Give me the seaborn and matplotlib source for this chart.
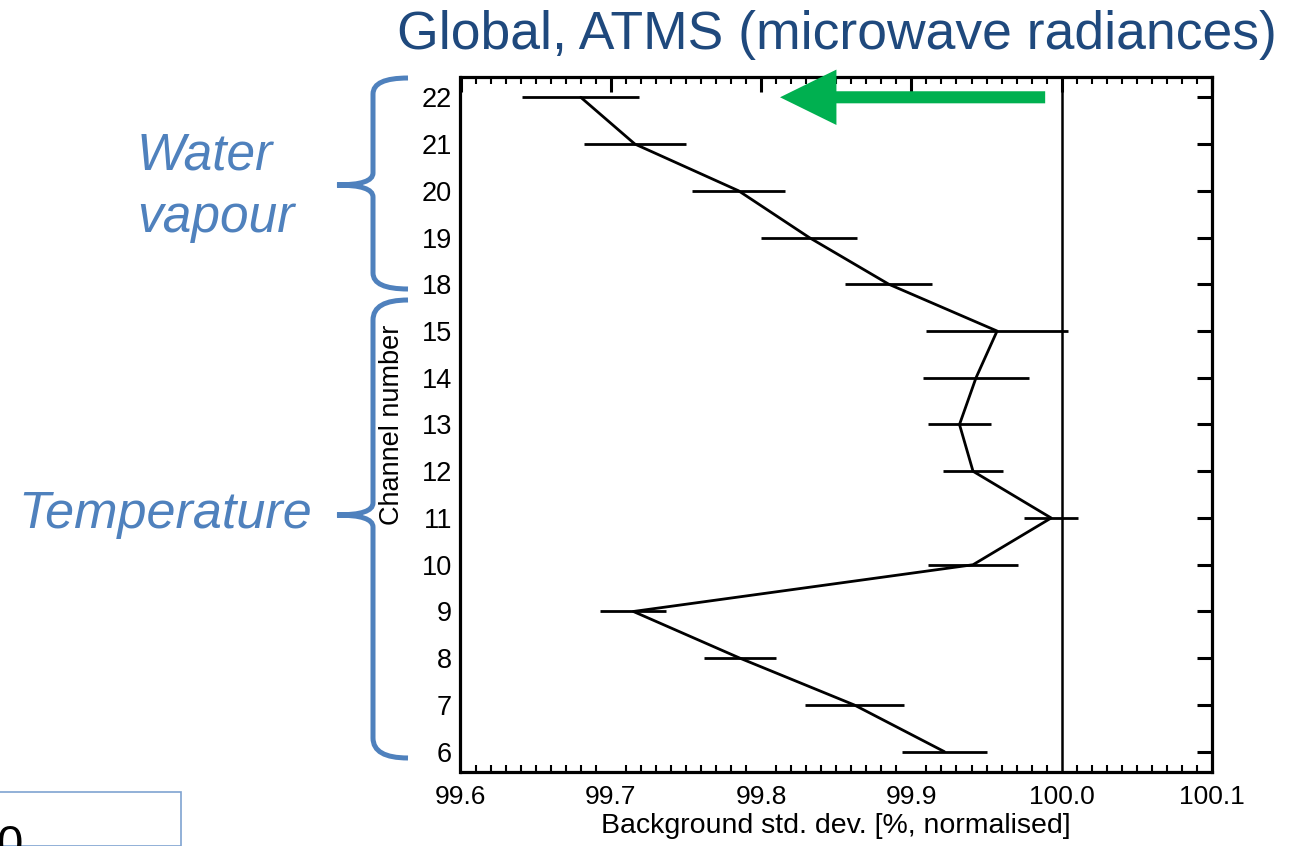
import numpy as np
import pandas as pd
import matplotlib
matplotlib.use("Agg")
import matplotlib.pyplot as plt
import seaborn as sns
from matplotlib.path import Path
from matplotlib.patches import PathPatch, Rectangle
from matplotlib.transforms import Affine2D
from matplotlib.ticker import MultipleLocator

# ---------------- data ----------------
channels = [6, 7, 8, 9, 10, 11, 12, 13, 14, 15, 18, 19, 20, 21, 22]
std_dev = [99.922, 99.862, 99.786, 99.715, 99.941, 99.993, 99.941, 99.932,
           99.943, 99.957, 99.885, 99.832, 99.785, 99.716, 99.680]
std_err = [0.028, 0.033, 0.024, 0.022, 0.030, 0.018, 0.020, 0.021,
           0.035, 0.047, 0.029, 0.032, 0.031, 0.034, 0.039]
x_ticks = [99.6, 99.7, 99.8, 99.9, 100.0, 100.1]
x_tick_labels = ["99.6", "99.7", "99.8", "99.9", "100.0", "100.1"]
reference_value = 100.0
arrow_from = 99.989
arrow_to = 99.8126

title = "Global, ATMS (microwave radiances)"
x_label = "Background std. dev. [%, normalised]"
y_label = "Channel number"

# ---------------- style ----------------
sns.set_style("white")
plt.rcParams["font.family"] = ["Liberation Sans", "DejaVu Sans"]
plt.rcParams["text.color"] = "black"
plt.rcParams["axes.labelcolor"] = "black"
plt.rcParams["xtick.color"] = "black"
plt.rcParams["ytick.color"] = "black"

W, H = 1291, 846
fig = plt.figure(figsize=(W / 100, H / 100), dpi=100)
ax = fig.add_axes([460.5 / W, 1 - 772 / H, (1212 - 460.5) / W, (772 - 77) / H])

df = pd.DataFrame({"channel": channels, "std": std_dev, "err": std_err})
df["pos"] = np.arange(len(df))

sns.lineplot(data=df, x="std", y="pos", orient="y", sort=False, errorbar=None,
             color="black", linewidth=2.0, ax=ax)
ax.errorbar(df["std"], df["pos"], xerr=df["err"], fmt="none", ecolor="black",
            elinewidth=2.0, capsize=0)
ax.axvline(reference_value, color="black", linewidth=1.8)

ax.set_xlim(99.6, 100.1)
ax.set_ylim(-0.434, len(df) - 1 + 0.434)
ax.set_xticks(x_ticks)
ax.set_xticklabels(x_tick_labels)
ax.xaxis.set_minor_locator(MultipleLocator(0.01))
ax.set_yticks(df["pos"])
ax.set_yticklabels([str(c) for c in channels])

for s in ax.spines.values():
    s.set_visible(True)
    s.set_linewidth(2.3)
    s.set_color("black")

ax.tick_params(axis="both", which="major", direction="in", length=10.5, width=2.2,
               top=True, right=True, color="black", labelcolor="black")
ax.tick_params(axis="x", which="minor", direction="in", length=5, width=1.5,
               top=True, bottom=True, color="black")
ax.tick_params(axis="x", which="major", labelsize=19, pad=9.5)
ax.tick_params(axis="y", which="major", labelsize=19.5, pad=6)

ax.set_xlabel(x_label, fontsize=20.5, color="black")
ax.xaxis.set_label_coords(0.5, -(833 - 772) / (772 - 77))
ax.xaxis.label.set_va("baseline")
ax.set_ylabel(y_label, fontsize=19.5, color="black")
ax.yaxis.set_label_coords(-(460.5 - 405) / (1212 - 460.5), 0.5)
ax.yaxis.label.set_va("bottom")
ax.grid(False)

# green arrow annotation
ax.annotate("", xy=(arrow_to, len(df) - 1), xytext=(arrow_from, len(df) - 1),
            xycoords="data", textcoords="data", annotation_clip=False,
            arrowprops=dict(arrowstyle="simple,head_length=2.9,head_width=2.85,tail_width=0.62",
                            mutation_scale=14, color="#00B050", lw=0, shrinkA=0, shrinkB=0))

# ---------------- slide decorations ----------------
fig.text(837 / W, 1 - 49 / H, title, ha="center", va="baseline",
         fontsize=38.5, color="#1F497D")

blue = "#4F81BD"
fig.text(137 / W, 1 - 170 / H, "Water", ha="left", va="baseline",
         fontsize=37, style="italic", color=blue)
fig.text(137 / W, 1 - 232 / H, "vapour", ha="left", va="baseline",
         fontsize=37, style="italic", color=blue)
fig.text(312 / W, 1 - 528 / H, "Temperature", ha="right", va="baseline",
         fontsize=37.5, style="italic", color=blue)

pix = Affine2D().scale(1, -1).translate(0, H)


def brace(top, bottom, mid, xv=373, xe=408, xt=337, r=16):
    verts = [(xe, top), (xv, top), (xv, top + r),
             (xv, mid - 12), (xv, mid), (xt, mid),
             (xv, mid), (xv, mid + 12),
             (xv, bottom - r), (xv, bottom), (xe, bottom)]
    codes = [Path.MOVETO, Path.CURVE3, Path.CURVE3,
             Path.LINETO, Path.CURVE3, Path.CURVE3,
             Path.CURVE3, Path.CURVE3,
             Path.LINETO, Path.CURVE3, Path.CURVE3]
    fig.add_artist(PathPatch(Path(verts, codes), transform=pix, fill=False,
                             edgecolor=blue, linewidth=3.6, capstyle="butt"))


brace(78, 289, 185)
brace(300, 758, 515, r=20)

# partial box at bottom left
fig.add_artist(Rectangle((-2, 0), 183, H - 792, transform=Affine2D(), fill=False,
                         edgecolor="#7FA3D1", linewidth=1.2))
fig.text(-4 / W, 1 - 858 / H, "0", ha="left", va="baseline", fontsize=34, color="black")

fig.savefig("out.png", dpi=100)
